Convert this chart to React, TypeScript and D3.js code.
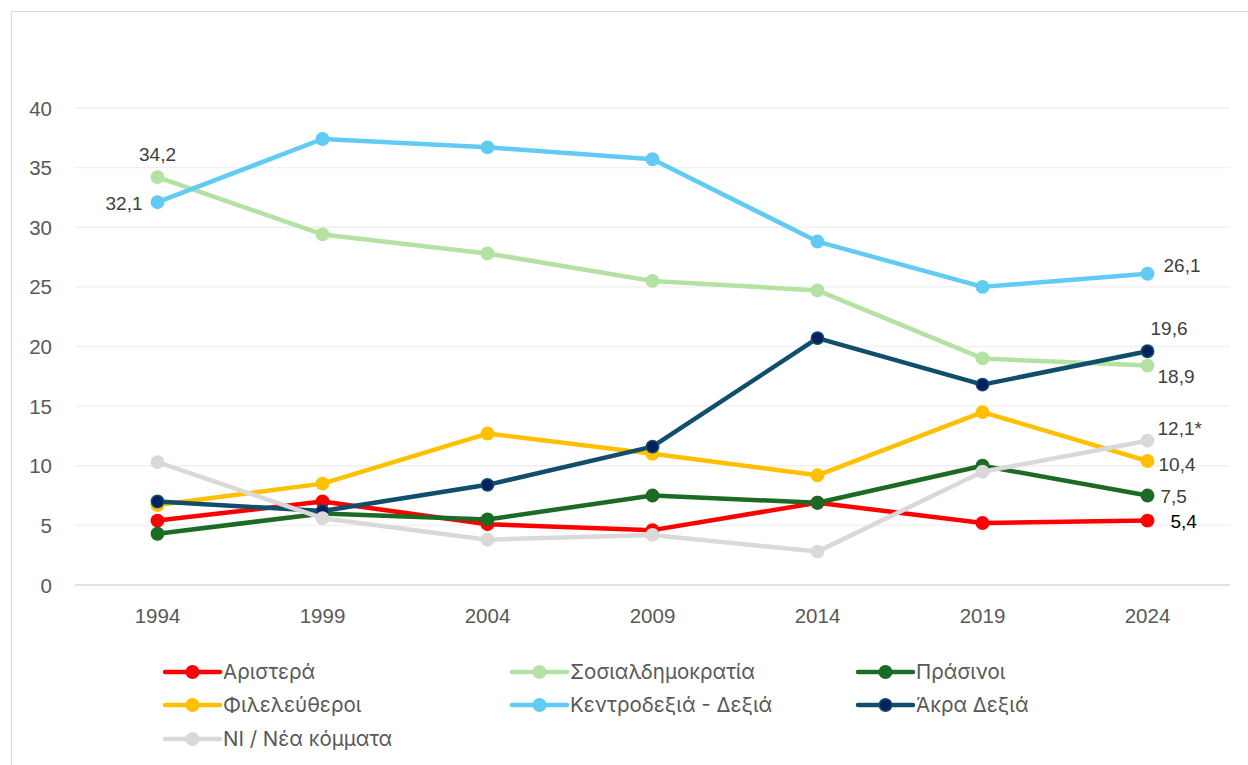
import React, { useEffect, useRef } from "react";
import * as d3 from "d3";

const years = ["1994", "1999", "2004", "2009", "2014", "2019", "2024"];
const yTicks = [0, 5, 10, 15, 20, 25, 30, 35, 40];

const aristera = [5.4, 7.0, 5.1, 4.6, 6.9, 5.2, 5.4];
const sosialdimokratia = [34.2, 29.4, 27.8, 25.5, 24.7, 19.0, 18.4];
const prasinoi = [4.3, 6.0, 5.5, 7.5, 6.9, 10.0, 7.5];
const fileleftheroi = [6.7, 8.5, 12.7, 11.0, 9.2, 14.5, 10.4];
const kentrodexia = [32.1, 37.4, 36.7, 35.7, 28.8, 25.0, 26.1];
const akraDexia = [7.0, 6.2, 8.4, 11.6, 20.7, 16.8, 19.6];
const neaKommata = [10.3, 5.6, 3.8, 4.2, 2.8, 9.5, 12.1];

const seriesNames = [
  "Αριστερά",
  "Σοσιαλδημοκρατία",
  "Πράσινοι",
  "Φιλελεύθεροι",
  "Κεντροδεξιά - Δεξιά",
  "Άκρα Δεξιά",
  "NI / Νέα κόμματα",
];

// data labels shown on the chart: [series index, year index, text]
const dataLabels: [number, number, string][] = [
  [1, 0, "34,2"],
  [4, 0, "32,1"],
  [4, 6, "26,1"],
  [5, 6, "19,6"],
  [1, 6, "18,9"],
  [6, 6, "12,1*"],
  [3, 6, "10,4"],
  [2, 6, "7,5"],
  [0, 6, "5,4"],
];

const lineColors = ["#ff0000", "#b3e2a3", "#1c6b24", "#ffc000", "#62cbf3", "#0f4f6b", "#d9d9d9"];
const markerColors = ["#ff0000", "#b3e2a3", "#1c6b24", "#ffc000", "#62cbf3", "#002060", "#d9d9d9"];
// label offsets relative to point (dx, dy, anchor)
const labelPos: Record<string, [number, number, string]> = {
  "34,2": [0, -16, "middle"],
  "32,1": [-15, 8, "end"],
  "26,1": [16, -2, "start"],
  "19,6": [3, -16, "start"],
  "18,9": [10, 17, "start"],
  "12,1*": [10, -6, "start"],
  "10,4": [11, 10, "start"],
  "7,5": [13, 7, "start"],
  "5,4": [23, 7, "start"],
};

const App = () => {
  const svgRef = useRef<SVGSVGElement>(null);

  useEffect(() => {
    const svg = d3.select(svgRef.current);
    svg.selectAll("*").remove();

    const data = [aristera, sosialdimokratia, prasinoi, fileleftheroi, kentrodexia, akraDexia, neaKommata];

    const x = d3.scaleBand().domain(years).range([75, 1230]);
    const cx = (yr: string) => (x(yr) as number) + x.bandwidth() / 2;
    const y = d3.scaleLinear().domain([0, 40]).range([585, 108]);

    // chart frame
    svg
      .append("rect")
      .attr("x", 11.5)
      .attr("y", 11.5)
      .attr("width", 1300)
      .attr("height", 800)
      .attr("fill", "#fff")
      .attr("stroke", "#d9d9d9")
      .attr("stroke-width", 1);

    // gridlines
    svg
      .append("g")
      .selectAll("line")
      .data(yTicks)
      .enter()
      .append("line")
      .attr("x1", 75)
      .attr("x2", 1230)
      .attr("y1", (d) => y(d))
      .attr("y2", (d) => y(d))
      .attr("stroke", (d) => (d === 0 ? "#d9d9d9" : "#f0f0f0"))
      .attr("stroke-width", 1.3);

    const axisFont = "'Liberation Sans', Arial, sans-serif";

    svg
      .append("g")
      .selectAll("text")
      .data(yTicks)
      .enter()
      .append("text")
      .attr("x", 52)
      .attr("y", (d) => y(d) + 7.5)
      .attr("text-anchor", "end")
      .attr("font-family", axisFont)
      .attr("font-size", 20.5)
      .attr("fill", "#595959")
      .text((d) => d);

    svg
      .append("g")
      .selectAll("text")
      .data(years)
      .enter()
      .append("text")
      .attr("x", (d) => cx(d))
      .attr("y", 623)
      .attr("text-anchor", "middle")
      .attr("font-family", axisFont)
      .attr("font-size", 20.5)
      .attr("fill", "#595959")
      .text((d) => d);

    const line = d3
      .line<number>()
      .x((_, i) => cx(years[i]))
      .y((d) => y(d));

    data.forEach((vals, si) => {
      const g = svg.append("g");
      g.append("path")
        .attr("d", line(vals))
        .attr("fill", "none")
        .attr("stroke", lineColors[si])
        .attr("stroke-width", 4.5)
        .attr("stroke-linejoin", "round");
      g.selectAll("circle")
        .data(vals)
        .enter()
        .append("circle")
        .attr("cx", (_, i) => cx(years[i]))
        .attr("cy", (d) => y(d))
        .attr("r", 6.2)
        .attr("fill", markerColors[si])
        .attr("stroke", lineColors[si])
        .attr("stroke-width", 1.5);
    });

    // data labels
    svg
      .append("g")
      .selectAll("text")
      .data(dataLabels)
      .enter()
      .append("text")
      .attr("x", (d) => cx(years[d[1]]) + labelPos[d[2]][0])
      .attr("y", (d) => y(data[d[0]][d[1]]) + labelPos[d[2]][1])
      .attr("text-anchor", (d) => labelPos[d[2]][2])
      .attr("font-family", axisFont)
      .attr("font-size", 19)
      .attr("fill", (d) => (d[2] === "5,4" ? "#000" : "#404040"))
      .text((d) => d[2]);

    // legend
    const legendX = [165, 512, 858];
    const legendY = [672, 705, 739];
    const legend = svg
      .append("g")
      .selectAll("g")
      .data(seriesNames)
      .enter()
      .append("g")
      .attr("transform", (_, i) => `translate(${legendX[i % 3]},${legendY[Math.floor(i / 3)]})`);
    legend
      .append("line")
      .attr("x1", 0)
      .attr("x2", 55)
      .attr("stroke", (_, i) => lineColors[i])
      .attr("stroke-width", 4.5)
      .attr("stroke-linecap", "round");
    legend
      .append("circle")
      .attr("cx", 27.5)
      .attr("r", 6.2)
      .attr("fill", (_, i) => markerColors[i])
      .attr("stroke", (_, i) => lineColors[i])
      .attr("stroke-width", 1.5);
    legend
      .append("text")
      .attr("x", 58)
      .attr("y", 7)
      .attr("font-family", "Inter, 'Noto Sans', sans-serif")
      .attr("font-size", 20.5)
      .attr("fill", "#595959")
      .text((d) => d);
  }, []);

  return (
    <svg
      ref={svgRef}
      width={1248}
      height={765}
      style={{ position: "absolute", left: 0, top: 0, display: "block", background: "#fff" }}
    />
  );
};

export default App;
